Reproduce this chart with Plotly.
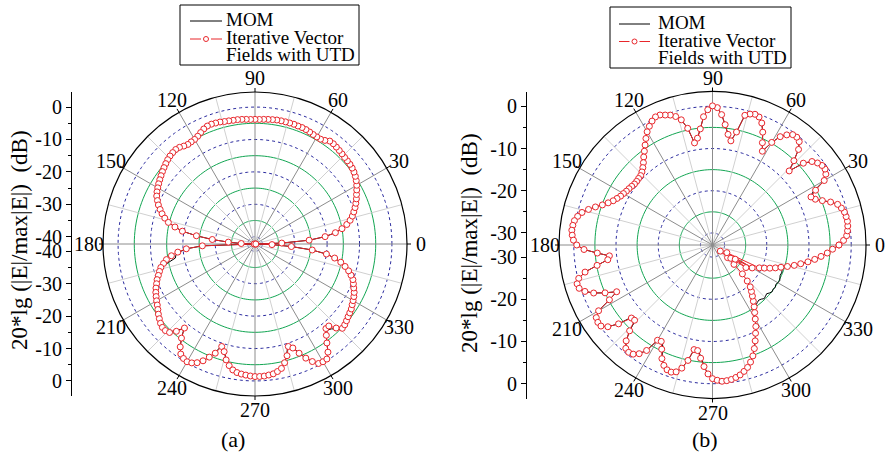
import math
import plotly.graph_objects as go

W, H = 888, 457
FONT = "Liberation Serif"
RED = "#e8262b"
BLUE = "#2b2b9e"
GREEN = "#12a552"
SPOKE_DARK = "#8c8c8c"
SPOKE_LIGHT = "#d0d0d0"

# ---------------- data (dB) ----------------
THETA = list(range(0, 360, 2))

A_IVF = [-42.0, -34.0, -25.5, -20.5, -17.2, -15.0, -13.3, -12.0, -11.0, -10.2,
         -9.4, -8.7, -8.0, -7.4, -6.7, -6.0, -5.4, -4.9, -4.5, -4.2,
         -4.0, -3.9, -3.8, -3.6, -3.4, -3.2, -3.0, -3.0, -3.7, -4.1,
         -4.1, -4.0, -3.8, -3.6, -3.5, -3.5, -3.4, -3.4, -3.4, -3.4,
         -3.4, -3.5, -3.6, -3.7, -3.8, -3.8, -3.8, -3.7, -3.6, -3.5,
         -3.5, -3.4, -3.3, -3.1, -3.0, -2.9, -3.0, -3.4, -4.0, -4.6,
         -5.0, -5.1, -5.2, -4.9, -4.4, -4.2, -4.3, -4.5, -4.8, -5.2,
         -5.6, -6.0, -6.4, -6.8, -7.2, -7.6, -8.0, -8.5, -9.3, -10.1,
         -11.1, -12.1, -13.3, -14.7, -17.0, -19.5, -24.0, -29.0, -34.0, -38.0,
         -42.0, -26.0, -21.0, -18.3, -16.2, -14.5, -13.4, -12.3, -11.6, -10.9,
         -10.1, -9.5, -8.8, -8.2, -7.7, -7.2, -6.7, -6.1, -5.4, -4.8,
         -4.2, -3.8, -3.8, -4.3, -6.0, -8.4, -5.4, -3.0, -1.3, -0.6,
         -0.3, -0.7, -1.5, -2.8, -4.6, -6.4, -9.0, -7.7, -5.4, -3.9,
         -2.8, -2.2, -1.9, -1.7, -1.5, -1.35, -1.35, -1.4, -1.6, -1.8,
         -2.3, -3.0, -4.5, -6.4, -9.0, -8.1, -5.9, -3.7, -1.9, -0.5,
         -0.3, -0.4, -2.0, -4.5, -6.5, -8.2, -8.2, -6.2, -4.8, -5.0,
         -5.4, -5.8, -6.1, -6.4, -6.9, -7.3, -7.7, -8.2, -8.9, -9.5,
         -10.1, -11.1, -12.2, -13.6, -15.2, -17.3, -20.0, -24.5, -31.0, -37.0]

A_MOM = [-42.0, -34.0, -25.5, -20.5, -17.2, -15.0, -13.3, -12.0, -11.0, -10.2,
         -9.4, -8.7, -8.0, -7.4, -6.2, -5.5, -4.9, -4.4, -4.1, -4.2,
         -4.0, -3.9, -3.8, -3.6, -3.4, -3.2, -3.0, -3.0, -3.4, -4.0,
         -4.1, -4.0, -3.8, -3.6, -3.5, -3.5, -3.4, -3.4, -3.4, -3.4,
         -3.4, -3.5, -3.6, -3.7, -3.8, -3.8, -3.8, -3.7, -3.6, -3.5,
         -3.5, -3.4, -3.3, -3.1, -3.0, -2.9, -3.0, -3.4, -4.0, -4.6,
         -5.0, -5.1, -5.2, -4.9, -4.4, -4.2, -4.3, -4.5, -4.8, -5.2,
         -5.6, -6.0, -6.4, -6.3, -6.6, -7.0, -7.4, -7.9, -8.7, -9.6,
         -11.0, -12.1, -13.3, -14.7, -17.0, -19.5, -24.0, -29.0, -34.0, -38.0,
         -42.0, -26.0, -21.0, -18.8, -17.6, -17.3, -15.0, -12.6, -11.6, -10.9,
         -10.1, -9.0, -8.2, -7.5, -7.0, -6.6, -6.2, -6.1, -5.4, -4.8,
         -4.2, -3.8, -3.8, -4.6, -6.5, -8.2, -5.4, -3.0, -1.3, -0.6,
         -0.3, -0.7, -1.5, -2.8, -4.6, -6.8, -9.4, -8.0, -5.4, -3.9,
         -2.8, -2.2, -1.9, -1.7, -1.5, -1.35, -1.35, -1.4, -1.6, -1.8,
         -2.3, -3.0, -4.5, -6.8, -9.4, -8.4, -5.9, -3.7, -1.9, -0.5,
         -0.3, -0.4, -2.0, -4.5, -6.5, -7.6, -7.0, -5.8, -4.3, -4.6,
         -5.4, -5.8, -6.1, -6.0, -6.4, -6.8, -7.3, -7.8, -8.9, -9.5,
         -10.1, -11.1, -12.2, -13.6, -15.2, -17.3, -20.0, -24.5, -31.0, -37.0]

B_IVF = [-2.9, -1.8, -1.0, -0.7, -0.5, -0.4, -0.5, -0.65, -1.1, -1.7,
         -3.1, -4.8, -6.2, -6.9, -5.2, -2.3, -1.2, -0.7, -0.8, -1.3,
         -2.1, -3.9, -7.6, -5.1, -2.4, -0.9, -0.45, -0.55, -1.4, -2.6,
         -4.8, -7.7, -5.9, -3.6, -1.7, -0.6, -0.3, -0.6, -1.2, -5.5,
         -7.8, -6.4, -4.2, -1.9, -0.3, 0.1, -0.8, -2.4, -5.2, -7.3,
         -8.3, -4.6, -2.3, -1.2, -0.5, -0.1, 0.35, 0.35, -0.2, -1.0,
         -1.9, -3.1, -4.3, -5.4, -6.4, -7.4, -8.2, -8.8, -9.2, -9.3,
         -9.4, -9.4, -9.2, -9.0, -8.8, -8.5, -8.2, -7.7, -7.1, -6.2,
         -5.1, -3.7, -2.3, -1.0, -0.2, 0.35, 0.55, 0.65, 0.45, 0.1,
         -0.7, -2.4, -5.5, -8.3, -7.8, -5.1, -2.0, -0.2, 0.5, 0.35,
         -0.7, -2.5, -5.0, -7.6, -5.2, -1.7, -0.4, -0.1, -0.2, -1.4,
         -3.8, -7.0, -7.2, -4.6, -2.3, -0.9, -0.6, -0.9, -1.8, -3.4,
         -6.8, -7.0, -5.4, -3.4, -2.1, -1.4, -1.2, -1.6, -2.8, -4.9,
         -7.7, -7.6, -5.9, -4.0, -2.3, -1.2, -0.8, -0.5, -0.55, -0.7,
         -1.0, -1.4, -2.0, -2.7, -3.7, -4.9, -6.4, -8.0, -9.6, -11.0,
         -12.6, -14.0, -15.2, -16.4, -17.5, -18.5, -19.5, -21.0, -23.0, -26.0,
         -28.2, -30.5, -27.5, -23.3, -26.5, -22.0, -29.0, -20.5, -19.4, -18.2,
         -17.0, -15.8, -14.4, -12.9, -11.5, -9.9, -8.4, -7.0, -5.6, -4.4]

B_MOM = [-2.9, -1.8, -1.0, -0.7, -0.5, -0.4, -0.5, -0.65, -1.1, -1.7,
         -3.1, -4.8, -6.2, -7.2, -5.8, -2.3, -1.2, -0.7, -0.8, -1.3,
         -2.1, -3.9, -7.6, -5.1, -2.4, -0.9, -0.45, -0.55, -1.4, -2.6,
         -4.8, -7.7, -5.9, -3.6, -1.7, -0.6, -0.3, -0.6, -1.2, -5.5,
         -7.8, -6.4, -4.2, -1.9, -0.3, 0.1, -0.8, -2.4, -5.2, -7.3,
         -8.3, -4.6, -2.3, -1.2, -0.5, -0.1, 0.35, 0.35, -0.2, -1.0,
         -1.9, -3.1, -4.3, -5.4, -6.4, -7.7, -8.5, -9.1, -9.5, -9.6,
         -9.6, -9.4, -9.2, -9.0, -8.8, -8.5, -8.2, -7.7, -7.1, -6.2,
         -5.1, -3.7, -2.3, -1.0, -0.2, 0.35, 0.55, 0.65, 0.45, 0.1,
         -0.7, -2.4, -5.5, -8.3, -7.8, -5.1, -2.0, -0.2, 0.5, 0.35,
         -0.7, -2.5, -5.0, -7.6, -5.2, -1.7, -0.4, -0.1, -0.2, -1.4,
         -3.8, -7.6, -7.8, -4.6, -2.3, -0.9, -0.6, -0.9, -1.8, -3.4,
         -6.8, -7.4, -6.0, -3.4, -2.1, -1.4, -1.2, -1.6, -2.8, -4.9,
         -7.7, -7.9, -6.3, -4.0, -2.3, -1.2, -0.8, -0.5, -0.55, -0.7,
         -1.0, -1.4, -2.0, -2.7, -3.7, -4.9, -6.4, -8.0, -9.6, -11.0,
         -12.6, -14.0, -14.8, -15.3, -15.6, -15.8, -15.6, -15.2, -15.4, -15.6,
         -15.2, -14.9, -15.1, -14.9, -15.2, -15.0, -14.8, -15.1, -15.3, -15.2,
         -15.3, -15.2, -14.4, -12.9, -11.5, -9.9, -8.4, -7.0, -5.6, -4.4]

ANGLE_TICKS = list(range(0, 360, 30))
ANGLE_LABELS = [str(a) for a in ANGLE_TICKS]
SPOKE_ANGLES = list(range(0, 360, 15))
A_RANGE = [-42.25, 4.65]
B_RANGE = [-32.85, 3.5]
A_LEVELS = list(range(-40, 1, 5))
B_LEVELS = list(range(-30, 1, 5))
A_AXIS_LABELS = [0, -10, -20, -30, -40]
A_AXIS_MINOR = [-5, -15, -25, -35]
B_AXIS_LABELS = [0, -10, -20, -30]
B_AXIS_MINOR = [-5, -15, -25]
Y_TITLE = "20*lg (|E|/max|E|)  (dB)"


def fx(x):
    return x / W


def fy(y):
    return 1 - y / H


fig = go.Figure()


def add_panel(polar, rng, levels, mom, ivf):
    circ_theta = list(range(0, 361, 2))
    for lv in levels:
        blue = (lv % 10 == 0)
        fig.add_trace(go.Scatterpolar(
            r=[lv] * len(circ_theta), theta=circ_theta, mode="lines", subplot=polar,
            line=dict(color=BLUE if blue else GREEN, width=1,
                      dash="dot" if blue else "solid"),
            hoverinfo="skip", showlegend=False))
    for dark in (False, True):
        rr, tt = [], []
        for a in SPOKE_ANGLES:
            if (a % 30 == 0) == dark:
                rr += [rng[0], rng[1], None]
                tt += [a, a, None]
        fig.add_trace(go.Scatterpolar(
            r=rr, theta=tt, mode="lines", subplot=polar,
            line=dict(color=SPOKE_DARK if dark else SPOKE_LIGHT, width=1),
            hoverinfo="skip", showlegend=False))
    fig.add_trace(go.Scatterpolar(
        r=mom + [mom[0]], theta=THETA + [360], mode="lines",
        subplot=polar, name="MOM", line=dict(color="black", width=1),
        showlegend=False))
    fig.add_trace(go.Scatterpolar(
        r=ivf + [ivf[0]], theta=THETA + [360], mode="lines+markers", subplot=polar,
        name="Iterative Vector Fields with UTD",
        line=dict(color=RED, width=1),
        marker=dict(symbol="circle", size=6, color="white",
                    line=dict(color=RED, width=1)),
        showlegend=False))


A_C, A_R = (255, 244), 152
B_C, B_R = (712.5, 245), 153.5

add_panel("polar", A_RANGE, A_LEVELS, A_MOM, A_IVF)
add_panel("polar2", B_RANGE, B_LEVELS, B_MOM, B_IVF)

# empty traces so the cartesian helper axes exist
fig.add_trace(go.Scatter(x=[None], y=[None], xaxis="x", yaxis="y",
                         showlegend=False, hoverinfo="skip"))
fig.add_trace(go.Scatter(x=[None], y=[None], xaxis="x2", yaxis="y2",
                         showlegend=False, hoverinfo="skip"))


def polar_layout(cx, cy, R, rng):
    return dict(
        domain=dict(x=[fx(cx - R), fx(cx + R)], y=[fy(cy + R), fy(cy - R)]),
        bgcolor="white",
        radialaxis=dict(range=rng, showgrid=False, showline=False,
                        showticklabels=False, ticks=""),
        angularaxis=dict(rotation=0, direction="counterclockwise",
                         tickmode="array", tickvals=ANGLE_TICKS,
                         showticklabels=False,
                         ticks="", showgrid=False, showline=True,
                         linecolor="black", linewidth=1.2),
    )


def y_layout(cy, R, rng, labels, minor):
    span = rng[1] - rng[0]
    tv = [d - rng[0] for d in labels] + [-(d - rng[0]) for d in labels]
    tt = [str(d) for d in labels] * 2
    mv = [d - rng[0] for d in minor] + [-(d - rng[0]) for d in minor]
    return dict(domain=[fy(cy + R), fy(cy - R)], range=[-span, span],
                automargin=False,
                tickmode="array", tickvals=tv, ticktext=tt,
                ticks="outside", ticklen=5, tickcolor="black", tickwidth=1,
                showline=True, linecolor="black", linewidth=1,
                showgrid=False, zeroline=False,
                tickfont=dict(family=FONT, size=20, color="black"),
                minor=dict(tickmode="array", tickvals=mv, ticks="outside",
                           ticklen=3, tickcolor="black"))


fig.update_layout(
    width=W, height=H, margin=dict(l=0, r=0, t=0, b=0, autoexpand=False),
    paper_bgcolor="white", plot_bgcolor="white",
    font=dict(family=FONT, color="black"),
    showlegend=False,
    polar=polar_layout(A_C[0], A_C[1], A_R, A_RANGE),
    polar2=polar_layout(B_C[0], B_C[1], B_R, B_RANGE),
    xaxis=dict(domain=[fx(72), fx(90)], visible=False, range=[0, 1], automargin=False),
    yaxis=dict(anchor="x", **y_layout(A_C[1], A_R, A_RANGE, A_AXIS_LABELS, A_AXIS_MINOR)),
    xaxis2=dict(domain=[fx(527), fx(545)], visible=False, range=[0, 1], anchor="y2",
                automargin=False),
    yaxis2=dict(anchor="x2", **y_layout(B_C[1], B_R, B_RANGE, B_AXIS_LABELS, B_AXIS_MINOR)),
)

# angle labels centred on the radial direction just outside the rim,
# plus short outside tick marks at the labelled angles
for (cx, cy), R in [(A_C, A_R), (B_C, B_R)]:
    for a, lab in zip(ANGLE_TICKS, ANGLE_LABELS):
        c, s = math.cos(math.radians(a)), math.sin(math.radians(a))
        fig.add_annotation(x=fx(cx + (R + 14) * c), y=fy(cy - (R + 14) * s),
                           xref="paper", yref="paper", text=lab, showarrow=False,
                           xanchor="center", yanchor="middle",
                           font=dict(family=FONT, size=20, color="black"))
        fig.add_shape(type="line", xref="paper", yref="paper",
                      x0=fx(cx + R * c), y0=fy(cy - R * s),
                      x1=fx(cx + (R + 4) * c), y1=fy(cy - (R + 4) * s),
                      line=dict(color="black", width=1))

# axis titles and panel captions
for x, y in [(20, 240), (470, 243)]:
    fig.add_annotation(x=fx(x), y=fy(y), xref="paper", yref="paper",
                       text=Y_TITLE, textangle=-90, showarrow=False,
                       xanchor="center", yanchor="middle",
                       font=dict(family=FONT, size=23, color="black"))
for x, txt in [(233, "(a)"), (705, "(b)")]:
    fig.add_annotation(x=fx(x), y=fy(439), xref="paper", yref="paper",
                       text=txt, showarrow=False, xanchor="center", yanchor="middle",
                       font=dict(family=FONT, size=22, color="black"))

# legends (box, samples, text)
for (bx0, by0, bx1, by1, lx0, lx1, ly1, ly2, tx, ty) in [
        (180, 5, 359, 65, 190, 222, 21, 39, 224, (19, 37, 55)),
        (610, 7, 791, 68, 619, 650, 24, 41.5, 656, (22, 40, 58))]:
    fig.add_shape(type="rect", xref="paper", yref="paper",
                  x0=fx(bx0), x1=fx(bx1), y0=fy(by1), y1=fy(by0),
                  line=dict(color="black", width=1), fillcolor="white")
    fig.add_shape(type="line", xref="paper", yref="paper",
                  x0=fx(lx0), x1=fx(lx1), y0=fy(ly1), y1=fy(ly1),
                  line=dict(color="black", width=1))
    mid = (lx0 + lx1) / 2
    fig.add_shape(type="line", xref="paper", yref="paper",
                  x0=fx(lx0), x1=fx(mid - 5), y0=fy(ly2), y1=fy(ly2),
                  line=dict(color=RED, width=1))
    fig.add_shape(type="line", xref="paper", yref="paper",
                  x0=fx(mid + 5), x1=fx(lx1), y0=fy(ly2), y1=fy(ly2),
                  line=dict(color=RED, width=1))
    fig.add_shape(type="circle", xref="paper", yref="paper",
                  x0=fx(mid - 2.5), x1=fx(mid + 2.5), y0=fy(ly2 + 2.5), y1=fy(ly2 - 2.5),
                  line=dict(color=RED, width=1), fillcolor="white")
    for txt, yy in zip(["MOM", "Iterative Vector", "Fields with UTD"], ty):
        fig.add_annotation(x=fx(tx), y=fy(yy), xref="paper", yref="paper",
                           text=txt, showarrow=False, xanchor="left", yanchor="middle",
                           font=dict(family=FONT, size=19, color="black"))

# the page's default 8px body margin would shift the whole figure
fig.write_html("out.html", config={"displayModeBar": False},
               post_script="document.body.style.margin='0px';")
